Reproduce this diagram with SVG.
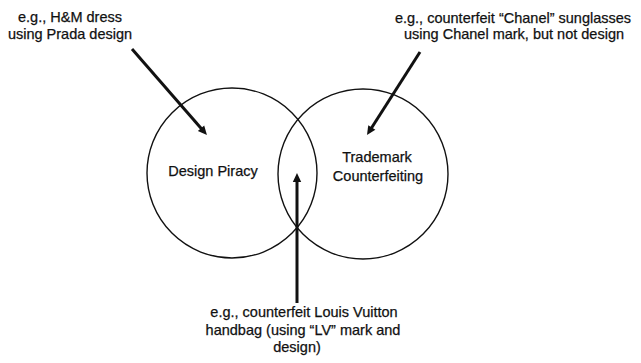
<svg xmlns="http://www.w3.org/2000/svg" width="641" height="363" viewBox="0 0 641 363">
<style>
text{font-family:"Liberation Sans",Arial,sans-serif;font-size:14.5px;fill:#111;stroke:#111;stroke-width:0.25;text-anchor:middle}
.c{fill:none;stroke:#111;stroke-width:1.4}
.a{stroke:#111;stroke-width:3;fill:none;marker-end:url(#h)}
</style>
<defs>
<marker id="h" markerWidth="3" markerHeight="3" refX="1" refY="1.4" orient="auto" markerUnits="strokeWidth" overflow="visible">
<path d="M0,0 L3,1.4 L0,2.8 Z" fill="#111"/>
</marker>
</defs>
<rect width="641" height="363" fill="#fff"/>
<g id="design-piracy">
<circle class="c" cx="232" cy="173" r="85"/>
<text x="213" y="176">Design Piracy</text>
</g>
<g id="trademark-counterfeiting">
<circle class="c" cx="363" cy="174" r="85"/>
<text x="377" y="162">Trademark</text>
<text x="378" y="181">Counterfeiting</text>
</g>
<g id="label-hm">
<text x="70" y="22">e.g., H&amp;M dress</text>
<text x="70" y="39">using Prada design</text>
</g>
<g id="label-chanel">
<text x="513" y="23">e.g., counterfeit “Chanel” sunglasses</text>
<text x="514" y="39">using Chanel mark, but not design</text>
</g>
<g id="label-lv">
<text x="304" y="317">e.g., counterfeit Louis Vuitton</text>
<text x="303" y="335">handbag (using “LV” mark and</text>
<text x="297" y="352">design)</text>
</g>
<g id="connectors">
<line class="a" x1="132" y1="49" x2="203" y2="130.5"/>
<line class="a" x1="420" y1="52" x2="370.2" y2="130"/>
<line class="a" x1="297" y1="303" x2="297" y2="179"/>
</g>
</svg>
